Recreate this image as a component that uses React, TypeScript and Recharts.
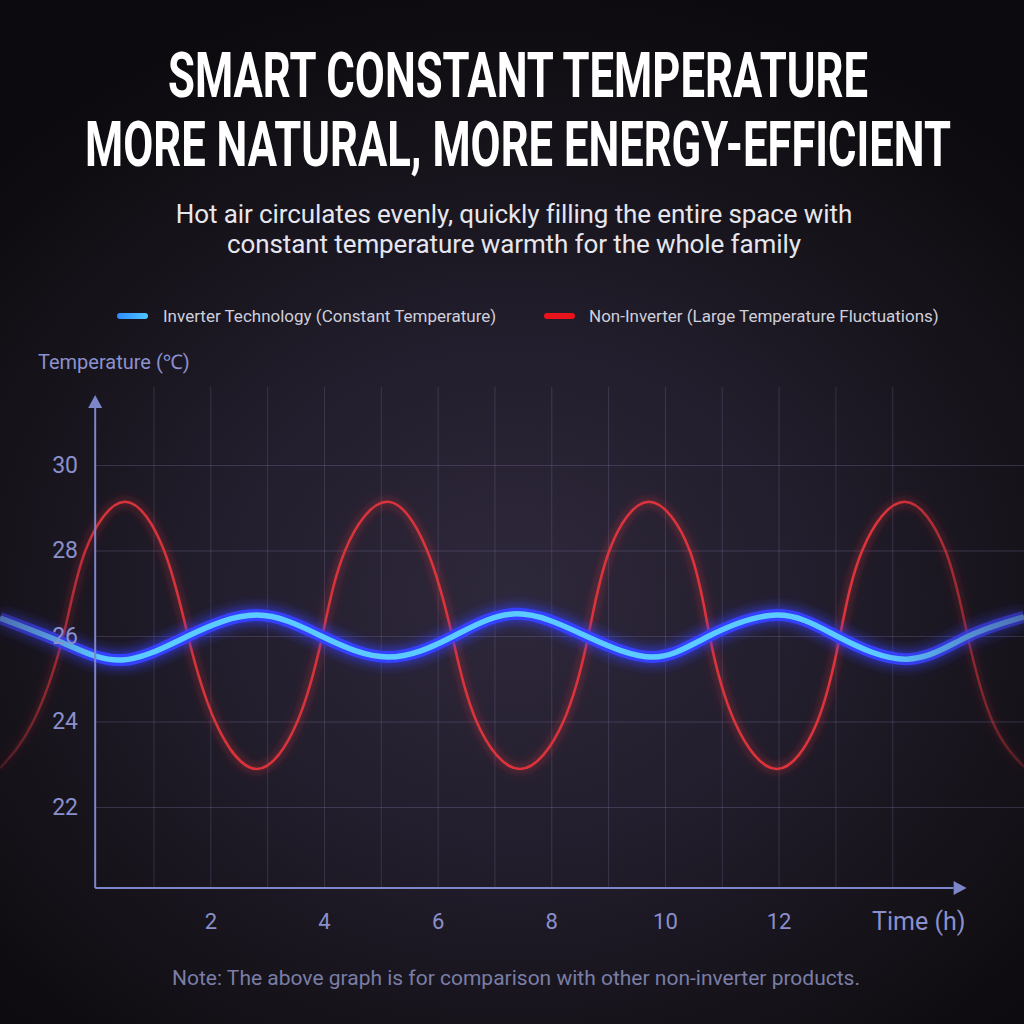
import { LineChart, Line, XAxis, YAxis, ReferenceLine } from "recharts";

// values
const redHours = [-1.71, -1.13, -0.6, -0.21, 0.49, 1.18, 1.6, 2.08, 2.81, 3.52, 3.96, 4.36, 5.1, 5.81, 6.25, 6.68, 7.44, 8.2, 8.64, 9.01, 9.71, 10.43, 10.78, 11.22, 11.96, 12.67, 13.07, 13.46, 14.21, 14.93, 15.32, 15.76, 16.31];
const redTemps = [22.92, 24, 26, 28, 29.15, 28, 26, 24, 22.9, 24, 26, 28, 29.15, 28, 26, 24, 22.9, 24, 26, 28, 29.15, 28, 26, 24, 22.9, 24, 26, 28, 29.15, 28, 26, 24, 22.95];

const blueHours = [-1.71, -0.6, 0.44, 1.58, 2.81, 3.96, 5.12, 6.26, 7.39, 8.62, 9.78, 10.75, 11.96, 13.03, 14.25, 15.32, 16.31];
const blueTemps = [26.43, 25.85, 25.45, 26.0, 26.5, 26.0, 25.52, 26.0, 26.53, 26.0, 25.52, 26.0, 26.5, 26.0, 25.47, 26.0, 26.46];

const xTicks = [2, 4, 6, 8, 10, 12];
const yTicks = [22, 24, 26, 28, 30];
const gridHours = [1, 2, 3, 4, 5, 6, 7, 8, 9, 10, 11, 12, 13, 14];

const X_DOMAIN: [number, number] = [-1.71, 16.31];
const Y_DOMAIN: [number, number] = [20.117, 31.649];
const AXIS_H = -0.035;
const AXIS_END_H = 15.3;
const GRID_TOP = 31.836;

const redData = redHours.map((h, i) => ({ h, t: redTemps[i] }));
const blueData = blueHours.map((h, i) => ({ h, t: blueTemps[i] }));

const AXIS_COLOR = "#7d86c8";
const LABEL_COLOR = "#8a90cc";
const FONT = "Roboto, 'Noto Sans', sans-serif";

const ArrowLine = (props: any) => {
  const { x1, y1, x2, y2 } = props;
  const a = Math.atan2(y2 - y1, x2 - x1);
  const L = 13;
  const W = 7;
  const bx = x2 - L * Math.cos(a);
  const by = y2 - L * Math.sin(a);
  const p1 = `${bx + W * Math.sin(a)},${by - W * Math.cos(a)}`;
  const p2 = `${bx - W * Math.sin(a)},${by + W * Math.cos(a)}`;
  return (
    <g>
      <line x1={x1} y1={y1} x2={bx} y2={by} stroke={AXIS_COLOR} strokeWidth={2} />
      <polygon points={`${x2},${y2} ${p1} ${p2}`} fill={AXIS_COLOR} />
    </g>
  );
};

const YTick = (props: any) => (
  <text x={78} y={props.y} textAnchor="end" dominantBaseline="central" fill={LABEL_COLOR} fontSize={23} fontFamily={FONT}>
    {props.payload.value}
  </text>
);

const XTick = (props: any) => (
  <text x={props.x} y={props.y + 33} textAnchor="middle" dominantBaseline="central" fill={LABEL_COLOR} fontSize={22} fontFamily={FONT}>
    {props.payload.value}
  </text>
);

const abs = (top: number, extra: any = {}) => ({ position: "absolute" as const, top, ...extra });

// condensed headline: narrower font size stretched vertically, then fitted to width
const Headline = ({ y, width, children }: { y: number; width: number; children: string }) => (
  <text
    transform={`translate(518,${y}) scale(1,1.37)`}
    x={0}
    y={0}
    textAnchor="middle"
    fontSize={46}
    fontWeight={700}
    fill="#ffffff"
    textLength={width}
    lengthAdjust="spacingAndGlyphs"
    fontFamily={FONT}
  >
    {children}
  </text>
);

export default function App() {
  return (
    <div
      style={{
        position: "absolute",
        left: 0,
        top: 0,
        width: 1024,
        height: 1024,
        overflow: "hidden",
        fontFamily: FONT,
        background:
          "radial-gradient(ellipse 70% 60% at 50% 58%, #2e283b 0%, #231e2d 40%, #151219 75%, #0c0a0e 100%)",
      }}
    >
      <svg width={1024} height={180} style={abs(0, { left: 0 })}>
        <Headline y={97} width={700}>SMART CONSTANT TEMPERATURE</Headline>
        <Headline y={166} width={866}>MORE NATURAL, MORE ENERGY-EFFICIENT</Headline>
      </svg>

      <div style={abs(199, { left: 0, width: 1028, textAlign: "center", color: "#e6e6ee", fontSize: 26, lineHeight: "30px", letterSpacing: -0.1 })}>
        Hot air circulates evenly, quickly filling the entire space with
        <br />
        constant temperature warmth for the whole family
      </div>

      <div style={abs(305, { left: 117, display: "flex", alignItems: "center", color: "#cfd0dc", fontSize: 17, lineHeight: "22px" })}>
        <span style={{ width: 31, height: 6, borderRadius: 3, background: "linear-gradient(90deg,#2f8cff,#4fc6ff)", marginRight: 15 }} />
        Inverter Technology (Constant Temperature)
      </div>
      <div style={abs(305, { left: 544, display: "flex", alignItems: "center", color: "#cfd0dc", fontSize: 17, lineHeight: "22px" })}>
        <span style={{ width: 31, height: 6, borderRadius: 3, background: "#e8141c", marginRight: 14 }} />
        Non-Inverter (Large Temperature Fluctuations)
      </div>

      <div style={abs(349, { left: 38, color: "#8c92cf", fontSize: 20, lineHeight: "26px" })}>Temperature (℃)</div>

      <div style={abs(0, { left: 0 })}>
        <LineChart width={1024} height={1024} margin={{ top: 395, right: 0, bottom: 96, left: -1 }}>
          <defs>
            <filter id="blueGlow" filterUnits="userSpaceOnUse" x={0} y={0} width={1024} height={1024}>
              <feGaussianBlur stdDeviation={7} result="b" />
              <feMerge>
                <feMergeNode in="b" />
                <feMergeNode in="SourceGraphic" />
              </feMerge>
            </filter>
            <filter id="redGlow" filterUnits="userSpaceOnUse" x={0} y={0} width={1024} height={1024}>
              <feGaussianBlur stdDeviation={5} result="b" />
              <feMerge>
                <feMergeNode in="b" />
                <feMergeNode in="SourceGraphic" />
              </feMerge>
            </filter>
            <linearGradient id="redFade" gradientUnits="userSpaceOnUse" x1={0} y1={0} x2={1024} y2={0}>
              <stop offset="0" stopColor="#e8343c" stopOpacity={0.2} />
              <stop offset="0.1" stopColor="#e8343c" stopOpacity={0.9} />
              <stop offset="0.86" stopColor="#e8343c" stopOpacity={0.95} />
              <stop offset="1" stopColor="#e8343c" stopOpacity={0.25} />
            </linearGradient>
            <linearGradient id="blueOuter" gradientUnits="userSpaceOnUse" x1={0} y1={0} x2={1024} y2={0}>
              <stop offset="0" stopColor="#3a3cd8" stopOpacity={0.55} />
              <stop offset="0.1" stopColor="#3540ff" stopOpacity={1} />
              <stop offset="0.86" stopColor="#3540ff" stopOpacity={1} />
              <stop offset="1" stopColor="#3a3cd8" stopOpacity={0.6} />
            </linearGradient>
            <linearGradient id="blueCore" gradientUnits="userSpaceOnUse" x1={0} y1={0} x2={1024} y2={0}>
              <stop offset="0" stopColor="#5a8ab8" stopOpacity={0.7} />
              <stop offset="0.1" stopColor="#5ccbff" stopOpacity={1} />
              <stop offset="0.86" stopColor="#5ccbff" stopOpacity={1} />
              <stop offset="1" stopColor="#5a8ab8" stopOpacity={0.7} />
            </linearGradient>
          </defs>

          <XAxis
            type="number"
            dataKey="h"
            domain={X_DOMAIN}
            allowDataOverflow
            ticks={xTicks}
            axisLine={false}
            tickLine={false}
            tickSize={0}
            tickMargin={0}
            height={40}
            tick={<XTick />}
          />
          <YAxis
            type="number"
            dataKey="t"
            domain={Y_DOMAIN}
            allowDataOverflow
            ticks={yTicks}
            axisLine={false}
            tickLine={false}
            width={1}
            interval={0}
            tick={<YTick />}
          />

          {gridHours.map((h) => (
            <ReferenceLine
              key={`v${h}`}
              segment={[{ x: h, y: Y_DOMAIN[0] }, { x: h, y: GRID_TOP }]}
              stroke="rgba(150,140,195,0.22)"
              strokeWidth={1}
              ifOverflow="visible"
            />
          ))}
          {yTicks.map((t) => (
            <ReferenceLine
              key={`g${t}`}
              segment={[{ x: AXIS_H, y: t }, { x: X_DOMAIN[1], y: t }]}
              stroke="rgba(150,140,195,0.25)"
              strokeWidth={1}
              ifOverflow="visible"
            />
          ))}

          <Line
            data={redData}
            dataKey="t"
            type="natural"
            stroke="url(#redFade)"
            strokeWidth={2.5}
            dot={false}
            activeDot={false}
            filter="url(#redGlow)"
            isAnimationActive={false}
          />
          <Line
            data={blueData}
            dataKey="t"
            type="natural"
            stroke="url(#blueOuter)"
            strokeWidth={12}
            dot={false}
            activeDot={false}
            filter="url(#blueGlow)"
            isAnimationActive={false}
          />
          <Line
            data={blueData}
            dataKey="t"
            type="natural"
            stroke="url(#blueCore)"
            strokeWidth={5.5}
            dot={false}
            activeDot={false}
            isAnimationActive={false}
          />

          <ReferenceLine
            segment={[{ x: AXIS_H, y: Y_DOMAIN[0] }, { x: AXIS_H, y: Y_DOMAIN[1] }]}
            shape={ArrowLine}
            ifOverflow="visible"
          />
          <ReferenceLine
            segment={[{ x: AXIS_H, y: Y_DOMAIN[0] }, { x: AXIS_END_H, y: Y_DOMAIN[0] }]}
            shape={ArrowLine}
            ifOverflow="visible"
          />
        </LineChart>
      </div>

      <div style={abs(907, { left: 872, color: LABEL_COLOR, fontSize: 25, lineHeight: "30px" })}>Time (h)</div>

      <div style={abs(965, { left: 0, width: 1032, textAlign: "center", color: "#7a7ea6", fontSize: 21, lineHeight: "26px" })}>
        Note: The above graph is for comparison with other non-inverter products.
      </div>
    </div>
  );
}
